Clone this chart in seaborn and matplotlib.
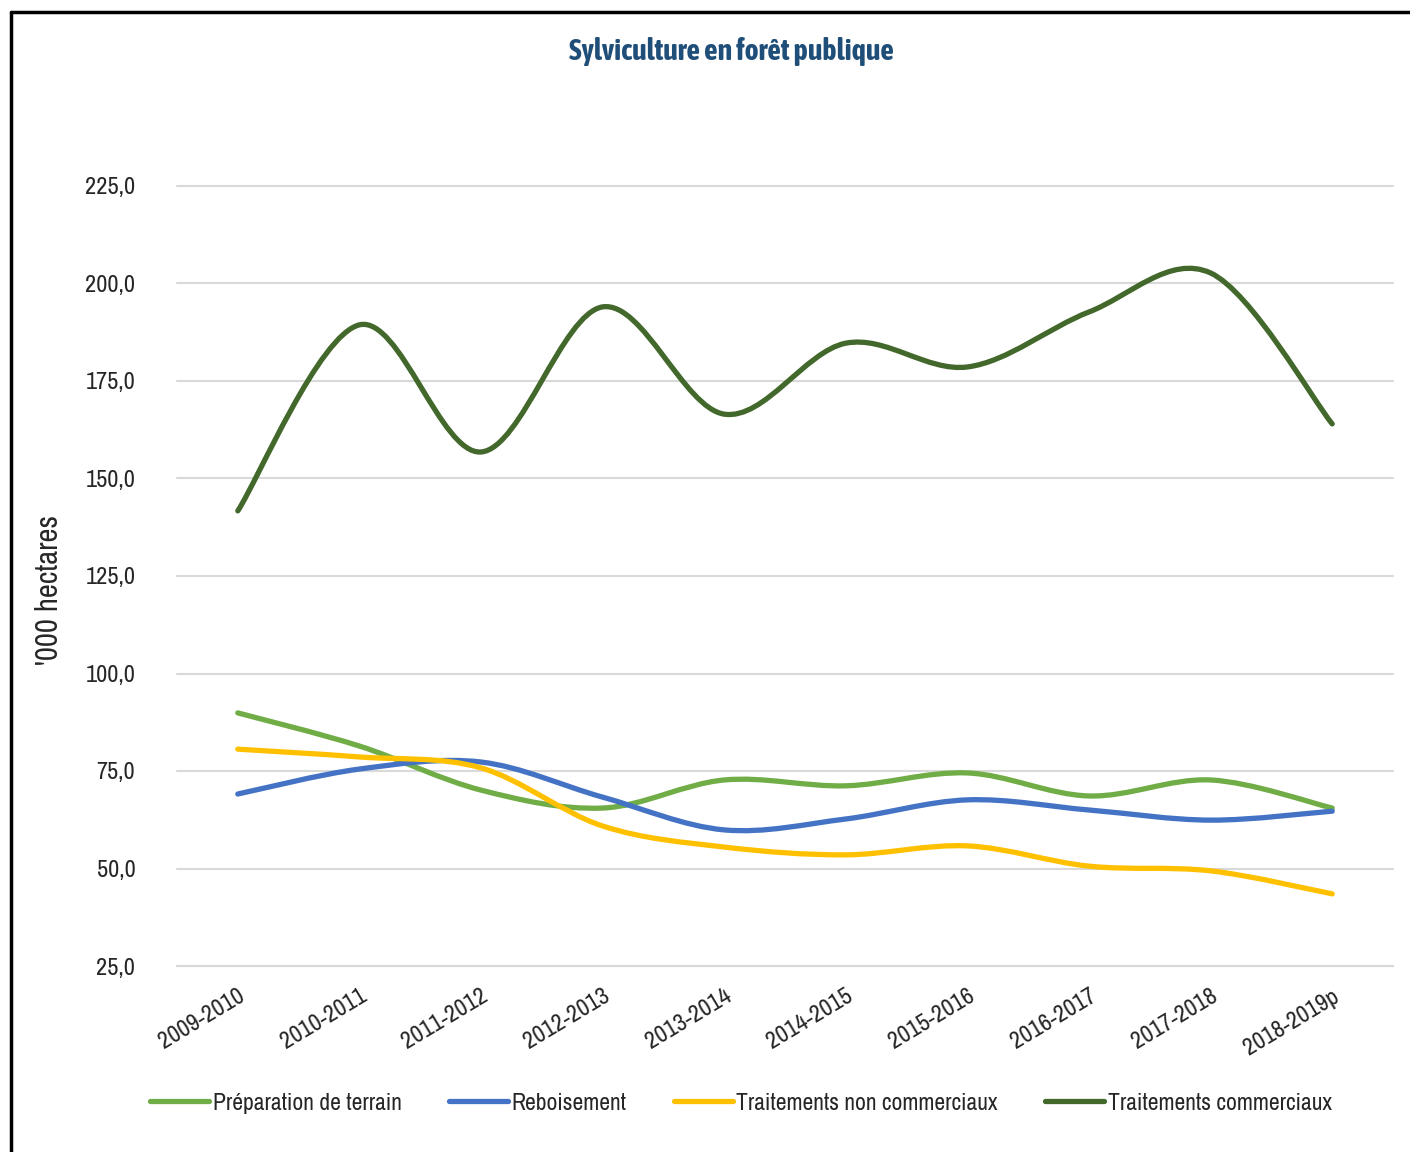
import numpy as np
import pandas as pd
import matplotlib
matplotlib.use('Agg')
import matplotlib.pyplot as plt
import seaborn as sns
from matplotlib import font_manager
from matplotlib.path import Path
from matplotlib.patches import PathPatch
from matplotlib.lines import Line2D
from matplotlib.ticker import FuncFormatter

# Data
years = ['2009-2010', '2010-2011', '2011-2012', '2012-2013', '2013-2014',
         '2014-2015', '2015-2016', '2016-2017', '2017-2018', '2018-2019p']
preparation = [89.9, 81.4, 70.1, 65.5, 72.7, 71.2, 74.5, 68.6, 72.7, 65.5]
reboisement = [69.1, 75.5, 77.3, 68.3, 59.9, 62.7, 67.6, 65.0, 62.4, 64.7]
non_commerciaux = [80.6, 78.6, 75.8, 60.9, 55.5, 53.5, 55.8, 50.6, 49.4, 43.5]
commerciaux = [141.7, 189.4, 156.8, 194.0, 166.5, 184.7, 178.6, 192.7, 202.7, 164.0]

series_names = ['Préparation de terrain', 'Reboisement',
                'Traitements non commerciaux', 'Traitements commerciaux']
series_values = [preparation, reboisement, non_commerciaux, commerciaux]
colors = ['#70AD47', '#4472C4', '#FFC000', '#43682B']

df = pd.DataFrame({name: vals for name, vals in zip(series_names, series_values)}, index=years)

sns.set_style('white')

# look for a narrow font (the chart uses Arial Narrow)
fonts = font_manager.fontManager.ttflist
names = sorted({f.name for f in fonts})
narrow = [n for n in names if 'Narrow' in n or 'Condensed' in n]
narrow_bold = [n for n in narrow
               if any(f.name == n and isinstance(f.weight, int) and f.weight >= 600 for f in fonts)
               or any(f.name == n and f.weight in ('bold', 'heavy', 'semibold', 'demibold') for f in fonts)]
if narrow:
    plt.rcParams['font.family'] = [narrow[0], 'DejaVu Sans']
    scale = 1.0
else:
    plt.rcParams['font.family'] = ['Liberation Sans', 'DejaVu Sans']
    scale = 0.85
if narrow_bold:
    title_font = dict(family=[narrow_bold[0], 'DejaVu Sans'], fontsize=21.5, fontweight='bold')
else:
    title_font = dict(family=['Liberation Sans', 'DejaVu Sans'], fontsize=16.5, fontweight='bold')


def smooth_path(xs, ys):
    # Excel-style smoothed line: cubic Bezier through every point
    pts = np.column_stack([xs, ys]).astype(float)
    n = len(pts)
    verts = [pts[0]]
    codes = [Path.MOVETO]
    for i in range(n - 1):
        p0 = pts[max(i - 1, 0)]
        p1 = pts[i]
        p2 = pts[i + 1]
        p3 = pts[min(i + 2, n - 1)]
        c1 = p1 + (p2 - p0) / 6.0
        c2 = p2 - (p3 - p1) / 6.0
        verts += [c1, c2, p2]
        codes += [Path.CURVE4] * 3
    return Path(verts, codes)


fig = plt.figure(figsize=(14.1, 11.52), dpi=100)
ax = fig.add_axes([177 / 1410, 186 / 1152, 1216 / 1410, 780 / 1152])

x = np.arange(len(years))
for name, color in zip(series_names, colors):
    patch = PathPatch(smooth_path(x, df[name].values), fill=False, edgecolor=color,
                      lw=3.8, capstyle='round', joinstyle='round', zorder=3)
    ax.add_patch(patch)

ax.set_xlim(-0.5, len(years) - 0.5)
ax.set_ylim(25, 225)
ax.set_yticks(np.arange(25, 226, 25))
ax.yaxis.set_major_formatter(FuncFormatter(lambda v, p: f'{v:.1f}'.replace('.', ',')))
ax.grid(axis='y', color='#D9D9D9', lw=1.5)
for gl in ax.get_ygridlines():
    gl.set_clip_on(False)
ax.set_axisbelow(True)

ax.set_xticks(x)
ax.set_xticklabels(years, rotation=31, ha='right', va='top', rotation_mode='anchor')
ax.set_xticks(np.arange(-0.5, len(years)), minor=True)
ax.tick_params(axis='x', which='major', length=0, pad=14, labelsize=17.5 * scale)
ax.tick_params(axis='x', which='minor', length=5, width=1.5, color='#D9D9D9', direction='in')
ax.tick_params(axis='y', length=0, pad=30, labelsize=17.5 * scale)

sns.despine(ax=ax, left=True, top=True, right=True)
ax.spines['bottom'].set_color('#D9D9D9')
ax.spines['bottom'].set_linewidth(1.5)

ax.set_ylabel("'000 hectares", fontsize=22 * scale)
ax.yaxis.set_label_coords((63 - 177) / 1216, (966 - 590) / 780)

fig.text(731 / 1410, 1 - 51 / 1152, 'Sylviculture en forêt publique', ha='center', va='center',
         color='#1F4E79', **title_font)

handles = [Line2D([0], [0], color=c, lw=3.8, solid_capstyle='round') for c in colors]
fig.legend(handles, series_names, loc='center', bbox_to_anchor=(741 / 1410, 1 - 1103 / 1152),
           ncol=4, frameon=False, fontsize=17 * scale, handlelength=2.5, handletextpad=0.15,
           columnspacing=2.0)

# outer frame (left and top edges visible)
fig.add_artist(Line2D([11 / 1410, 11 / 1410], [0, 1 - 12 / 1152], color='black', lw=2.5))
fig.add_artist(Line2D([11 / 1410, 1], [1 - 12 / 1152, 1 - 12 / 1152], color='black', lw=2.5))

fig.savefig('out.png', dpi=100, facecolor='white')
